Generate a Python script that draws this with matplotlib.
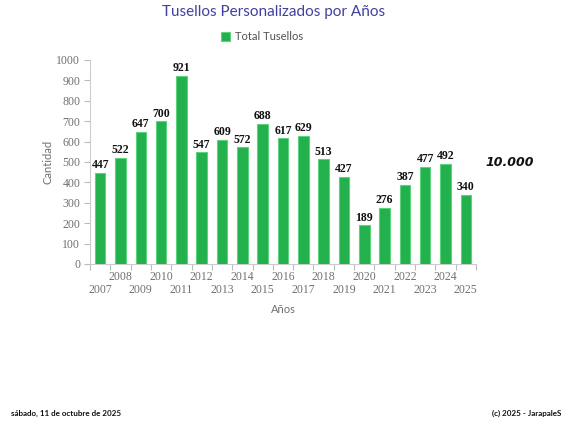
import matplotlib
matplotlib.use("Agg")
import matplotlib.pyplot as plt
import matplotlib.transforms as mtransforms

years = [str(y) for y in range(2007, 2026)]
values = [447, 522, 647, 700, 921, 547, 609, 572, 688, 617, 629, 513, 427, 189, 276, 387, 477, 492, 340]
yticks = list(range(0, 1001, 100))

SERIF = "Liberation Serif"
SANS = "Lato"

fig = plt.figure(figsize=(5.67, 4.23), dpi=100)
ax = fig.add_axes([90/567, 1-264/423, 386/567, 204/423])

x = list(range(len(years)))
ax.bar(x, values, width=0.52, color="#22B14C", edgecolor="#5ED37E", linewidth=0.8, zorder=3, label="Total Tusellos")
for xi, v in zip(x, values):
    ax.text(xi, v + 8, str(v), ha="center", va="bottom", fontsize=8.5, fontweight="bold",
            family=SERIF, color="#111111")

ax.set_xlim(-0.5, len(years) - 0.5)
ax.set_ylim(0, 1000)
ax.set_yticks(yticks)
ax.set_yticklabels([str(t) for t in yticks], family=SERIF, fontsize=8.5, color="#707070")
ax.set_xticks([i - 0.5 for i in range(len(years) + 1)])
ax.set_xticklabels([])
ax.tick_params(axis="both", color="#BBBBBB", length=4, width=0.8)
ax.tick_params(axis="y", pad=3)
for s in ["top", "right"]:
    ax.spines[s].set_visible(False)
for s in ["left", "bottom"]:
    ax.spines[s].set_color("#CCCCCC")
    ax.spines[s].set_linewidth(0.8)

trans = mtransforms.blended_transform_factory(ax.transData, ax.transAxes)
for i, yr in enumerate(years):
    yoff = -13/204 if i % 2 == 1 else -26/204
    ax.text(i, yoff, yr, transform=trans, ha="center", va="center", fontsize=8.5,
            family=SERIF, color="#707070")

fig.text(48/567, 1-162/423, "Cantidad", rotation=90, ha="center", va="center",
         family=SANS, fontsize=8, color="#707070")
fig.text(283/567, 1-309/423, "Años", ha="center", va="center", family=SANS, fontsize=8, color="#707070")

fig.text(274/567, 1-12/423, "Tusellos Personalizados por Años", ha="center", va="center",
         family=SANS, fontsize=11, color="#4040A0")

leg = ax.legend(loc="center", bbox_to_anchor=(262/567, 1-37/423), bbox_transform=fig.transFigure,
                frameon=False, prop={"family": SANS, "size": 8}, handlelength=0.8,
                handleheight=0.8, handletextpad=0.5)
for t in leg.get_texts():
    t.set_color("#505050")

fig.text(485/567, 1-163/423, "10.000", ha="left", va="center", fontsize=9,
         fontweight="bold", fontstyle="italic", family="DejaVu Sans", color="#111111")

fig.text(11/567, 1-413/423, "sábado, 11 de octubre de 2025", ha="left", va="center",
         fontsize=5.8, fontweight="bold", family=SANS, color="#111111")
fig.text(561/567, 1-413/423, "(c) 2025 - JarapaleS", ha="right", va="center",
         fontsize=5.8, fontweight="bold", family=SANS, color="#111111")

fig.savefig("out.png", dpi=100)
